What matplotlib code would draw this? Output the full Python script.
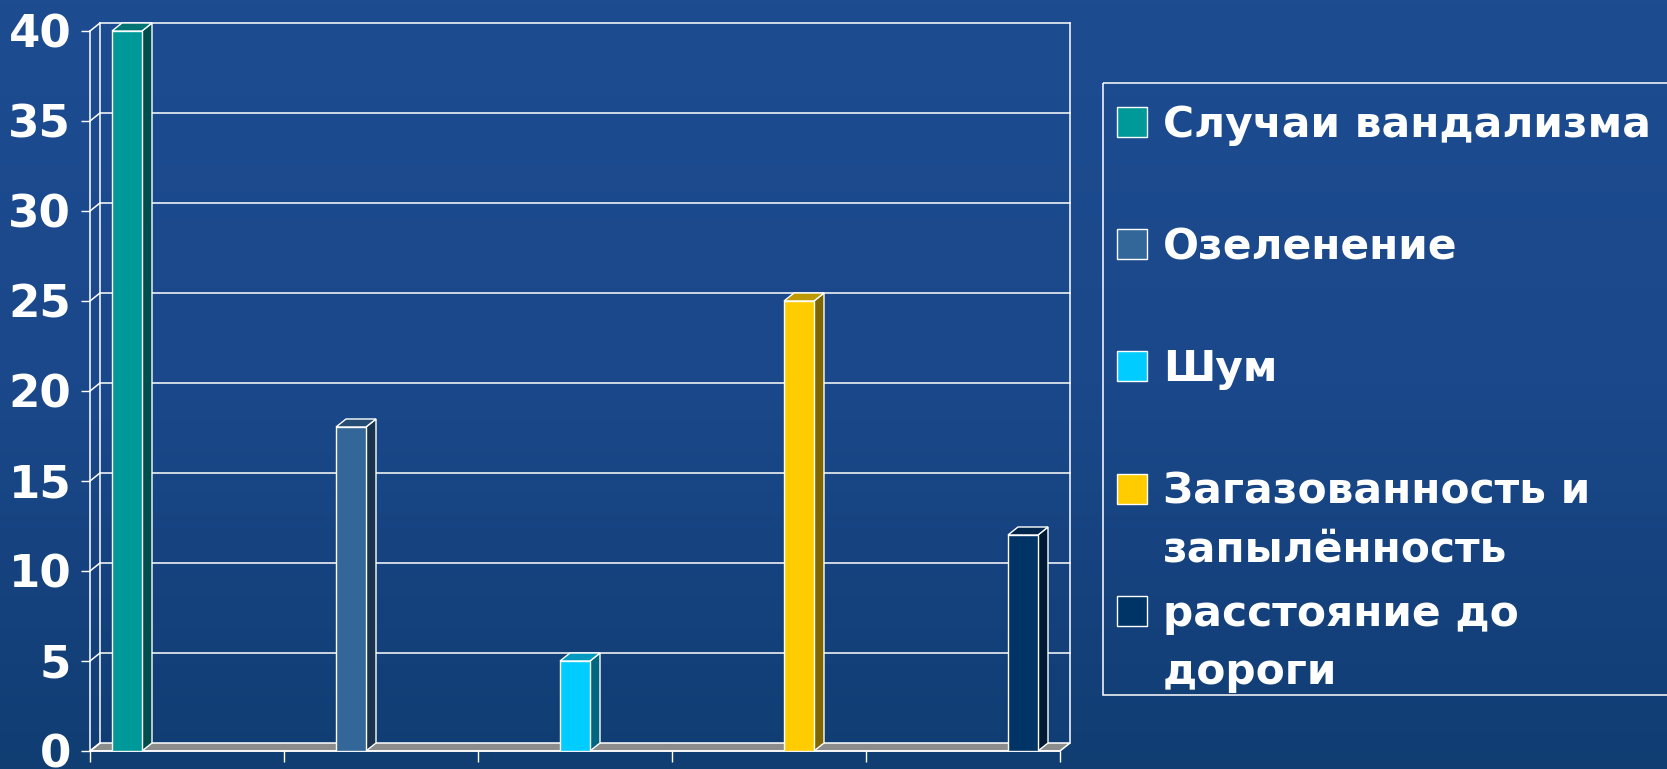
import matplotlib

matplotlib.use("Agg")
import matplotlib.pyplot as plt
import numpy as np
from matplotlib.colors import LinearSegmentedColormap
from matplotlib.patches import Polygon, Rectangle

# --- data -------------------------------------------------------------------
series = [
    "Случаи вандализма",
    "Озеленение",
    "Шум",
    "Загазованность и\nзапылённость",
    "расстояние до\nдороги",
]
values = [40, 18, 5, 25, 12]
front_colors = ["#009999", "#336699", "#00ccff", "#ffcc00", "#003366"]
side_colors = ["#004d4d", "#1a334d", "#006680", "#806600", "#001a33"]
top_colors = ["#007373", "#264d73", "#0099bf", "#bf9900", "#00264d"]
yticks = list(range(0, 45, 5))
n_cat = len(series)

W, H = 1667, 769
DEPTH_X, DEPTH_Y = 10, 8  # 3-D depth in pixels
plt.rcParams["font.family"] = ["DejaVu Sans"]

fig = plt.figure(figsize=(W / 100, H / 100), dpi=100)

# background
bg = fig.add_axes([0, 0, 1, 1], zorder=0)
cmap = LinearSegmentedColormap.from_list("bg", ["#1d4c91", "#1b488a", "#103d72"])
bg.imshow(np.linspace(0, 1, 256).reshape(-1, 1), aspect="auto", cmap=cmap,
          extent=[0, 1, 0, 1])
bg.set_axis_off()

# main axes = front plane of the 3-D box
ax = fig.add_axes([90 / W, 18 / H, 970 / W, 720 / H], zorder=2)
ax.set_xlim(0, n_cat)
ax.set_ylim(0, yticks[-1])
ax.patch.set_alpha(0)

dx = DEPTH_X * n_cat / 970
dy = DEPTH_Y * yticks[-1] / 720
lw = 1.1
wall = dict(color="white", linewidth=lw, clip_on=False, zorder=1)

# floor
floor = Polygon([(0, 0), (n_cat, 0), (n_cat + dx, dy), (dx, dy)], closed=True,
                facecolor="#8c8c8c", edgecolor="white", linewidth=lw, clip_on=False,
                zorder=1)
ax.add_patch(floor)

# back wall grid and side wall edges
for v in yticks[1:]:
    ax.plot([dx, n_cat + dx], [v + dy, v + dy], **wall)
for v in yticks:
    ax.plot([0, dx], [v, v + dy], **wall)
ax.plot([dx, dx], [dy, yticks[-1] + dy], **wall)
ax.plot([n_cat + dx, n_cat + dx], [dy, yticks[-1] + dy], **wall)

# bars: one series per category, clustered
w = 30 / 194
xs = np.array([i + 0.5 + (i - (n_cat - 1) / 2) * w for i in range(n_cat)])
ax.bar(xs, values, width=w, color=front_colors, edgecolor="white", linewidth=1.0,
       zorder=4)
for x, v, sc, tc in zip(xs, values, side_colors, top_colors):
    r, l = x + w / 2, x - w / 2
    ax.add_patch(Polygon([(r, 0), (r + dx, dy), (r + dx, v + dy), (r, v)],
                         closed=True, facecolor=sc, edgecolor="white",
                         linewidth=1.0, clip_on=False, zorder=3))
    ax.add_patch(Polygon([(l, v), (r, v), (r + dx, v + dy), (l + dx, v + dy)],
                         closed=True, facecolor=tc, edgecolor="white",
                         linewidth=1.0, clip_on=False, zorder=3))

# axes styling
for side in ("top", "right"):
    ax.spines[side].set_visible(False)
for side in ("left", "bottom"):
    ax.spines[side].set_color("white")
    ax.spines[side].set_linewidth(lw)
ax.set_yticks(yticks)
ax.set_yticklabels([str(t) for t in yticks])
ax.set_xticks(range(n_cat + 1))
ax.set_xticklabels([])
ax.tick_params(axis="y", colors="white", length=6.5, width=1.0, pad=7,
               labelsize=32.5)
ax.tick_params(axis="x", colors="white", length=8, width=1.0)
for lab in ax.get_yticklabels():
    lab.set_fontweight("bold")

# legend
lg = fig.add_axes([0, 0, 1, 1], zorder=5)
lg.set_xlim(0, W)
lg.set_ylim(H, 0)
lg.set_axis_off()
lg.add_patch(Rectangle((1103, 83), W, 695 - 83, facecolor="none",
                       edgecolor="white", linewidth=lw))
entry_y = [122, 244, 366, 489, 611]
for name, cy, col in zip(series, entry_y, front_colors):
    lg.add_patch(Rectangle((1117, cy - 15), 30, 30, facecolor=col,
                           edgecolor="white", linewidth=1.0))
    for k, line in enumerate(name.split("\n")):
        lg.text(1163, cy + 15 + k * 58, line, color="white", fontsize=30.5,
                fontweight="bold", ha="left", va="baseline")

fig.savefig("out.png", dpi=100)
